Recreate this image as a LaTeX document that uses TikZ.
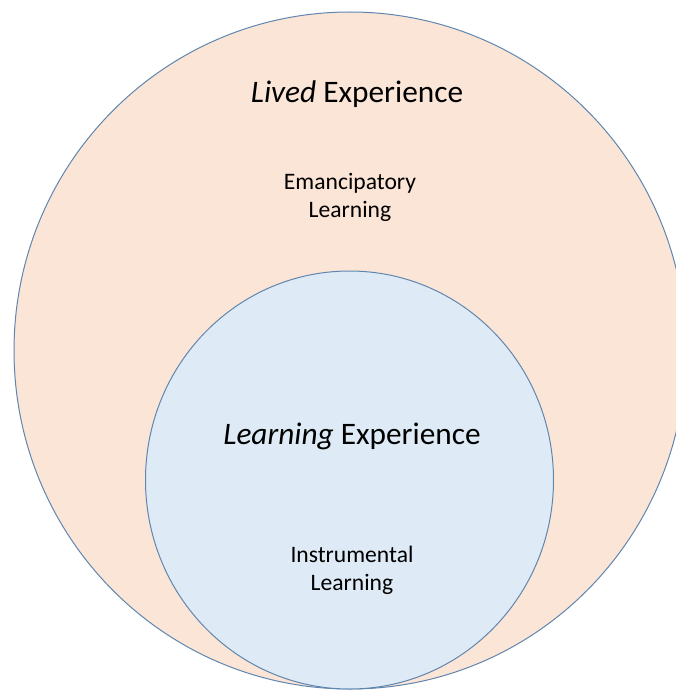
\documentclass[tikz,border=0pt]{standalone}
\usepackage{fontspec}
\setmainfont{Carlito}
\definecolor{livedfill}{HTML}{FBE5D6}
\definecolor{learnfill}{HTML}{DEEBF7}
\definecolor{rimline}{RGB}{96,134,176}
\tikzset{
  rim/.style={draw=rimline,line width=1pt},
  bigtitle/.style={font=\fontsize{31.3}{37}\selectfont,inner sep=0pt},
  smalltext/.style={font=\fontsize{23.6}{28}\selectfont,align=center,inner sep=0pt},
}
\begin{document}
\begin{tikzpicture}[x=1pt,y=-1pt]
        \useasboundingbox (0,0) rectangle (676,690) ;
        \begin{scope}
          \clip (0,0) rectangle (676,690) ;
          % outer circle
          \draw[rim,fill=livedfill] (350,350.5) ellipse (336 and 338.5) ;
          % inner circle
          \draw[rim,fill=learnfill] (349.5,480) ellipse (204 and 209) ;
        \end{scope}
        \node[bigtitle] (lived) at (357,94) {\textit{Lived} Experience} ;
        \node[smalltext] (emanc) at (350,197) {Emancipatory\\Learning} ;
        \node[bigtitle] (learn) at (352,436) {\textit{Learning} Experience} ;
        \node[smalltext] (instr) at (352,570) {Instrumental\\Learning} ;
      \end{tikzpicture}
\end{document}
